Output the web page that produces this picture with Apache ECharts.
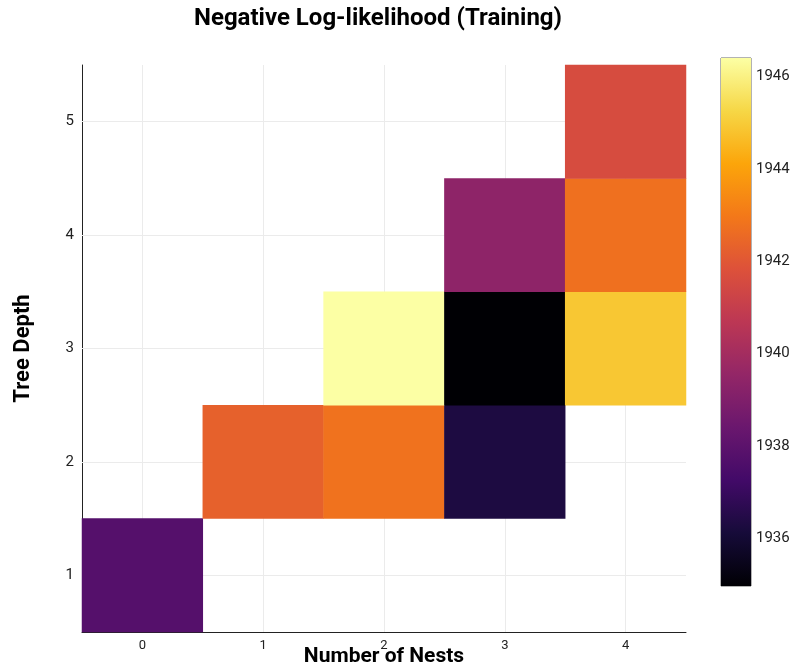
<!DOCTYPE html>
<html>
<head>
<meta charset="utf-8">
<script src="https://cdn.jsdelivr.net/npm/echarts@6/dist/echarts.min.js"></script>
<style>html,body{margin:0;padding:0;background:#fff}#c{width:794px;height:670px}</style>
</head>
<body>
<div id="c"></div>
<script>
var xCats = ['0', '1', '2', '3', '4'];
var yCats = ['1', '2', '3', '4', '5'];
// [xIndex, yIndex, value]
var cells = [
  [0, 0, 1937.8],
  [1, 1, 1942.3],
  [2, 1, 1942.8],
  [3, 1, 1936.3],
  [2, 2, 1946.4],
  [3, 2, 1934.97],
  [4, 2, 1944.9],
  [3, 3, 1939.4],
  [4, 3, 1942.75],
  [4, 4, 1941.6]
];
var colorMin = 1934.97;
var colorMax = 1946.4;
var colorTicks = [1936, 1938, 1940, 1942, 1944, 1946];
var inferno = ['#000004', '#160b39', '#420a68', '#6a176e', '#932667', '#bc3754',
               '#dd513a', '#f37819', '#fca50a', '#f6d746', '#fcffa4'];

var chart = echarts.init(document.getElementById('c'));
var font = 'Roboto, "DejaVu Sans", sans-serif';
var gridStops = inferno.map(function (c, i) { return { offset: i / (inferno.length - 1), color: c }; });

var option = {
  backgroundColor: '#fff',
  animation: false,
  title: {
    text: 'Negative Log-likelihood (Training)',
    left: 373, top: 2, textAlign: 'center',
    textStyle: { fontFamily: font, fontSize: 24, fontWeight: 'bold', color: '#000' }
  },
  grid: [
    { left: 82, right: 108, top: 65, bottom: 38, containLabel: false, outerBoundsMode: 'none' },
    { left: 721, width: 30, top: 58, height: 528, show: true, borderColor: '#666', borderWidth: 1,
      backgroundColor: 'transparent', outerBoundsMode: 'none' }
  ],
  xAxis: [
    {
      type: 'category', data: xCats, gridIndex: 0,
      name: 'Number of Nests', nameLocation: 'middle', nameGap: 14, nameMoveOverlap: false,
      nameTextStyle: { fontFamily: font, fontSize: 21, fontWeight: 'bold', color: '#000' },
      axisLine: { show: true, lineStyle: { color: '#222', width: 1 } },
      axisTick: { show: true, alignWithLabel: true, inside: true, length: 4, lineStyle: { color: '#222' } },
      axisLabel: { fontFamily: font, fontSize: 13, color: '#222', margin: 7 },
      splitLine: { show: false }
    },
    { type: 'category', data: [''], gridIndex: 1, show: false }
  ],
  yAxis: [
    {
      type: 'category', data: yCats, gridIndex: 0,
      name: 'Tree Depth', nameLocation: 'middle', nameGap: 48, nameRotate: 90, nameMoveOverlap: false,
      nameTextStyle: { fontFamily: font, fontSize: 22, fontWeight: 'bold', color: '#000' },
      axisLine: { show: true, lineStyle: { color: '#222', width: 1 } },
      axisTick: { show: true, alignWithLabel: true, inside: true, length: 4, lineStyle: { color: '#222' } },
      axisLabel: { fontFamily: font, fontSize: 15, color: '#222', margin: 8 },
      splitLine: { show: false }
    },
    {
      type: 'value', gridIndex: 1, position: 'right', min: colorMin, max: colorMax,
      axisLine: { show: false }, axisTick: { show: false }, splitLine: { show: false },
      axisLabel: { customValues: colorTicks, fontFamily: font, fontSize: 15, color: '#222', margin: 5,
        formatter: function (v) { return String(v); } }
    }
  ],
  visualMap: {
    show: false, type: 'continuous', seriesIndex: 0,
    min: colorMin, max: colorMax,
    inRange: { color: inferno }
  },
  series: [
    {
      type: 'heatmap', xAxisIndex: 0, yAxisIndex: 0, data: cells, z: 2,
      itemStyle: { borderWidth: 0 },
      markLine: {
        silent: true, symbol: 'none', z: 1, animation: false,
        label: { show: false },
        lineStyle: { color: '#ebebeb', width: 1, type: 'solid' },
        data: xCats.map(function (c) { return { xAxis: c }; })
          .concat(yCats.map(function (c) { return { yAxis: c }; }))
      }
    },
    {
      type: 'bar', xAxisIndex: 1, yAxisIndex: 1, stack: 'cb', barWidth: '100%',
      data: [colorMin], itemStyle: { color: 'transparent' }, silent: true
    },
    {
      type: 'bar', xAxisIndex: 1, yAxisIndex: 1, stack: 'cb', barWidth: '100%',
      data: [colorMax - colorMin], silent: true,
      itemStyle: { color: new echarts.graphic.LinearGradient(0, 1, 0, 0, gridStops) }
    }
  ]
};
chart.setOption(option);
</script>
</body>
</html>
